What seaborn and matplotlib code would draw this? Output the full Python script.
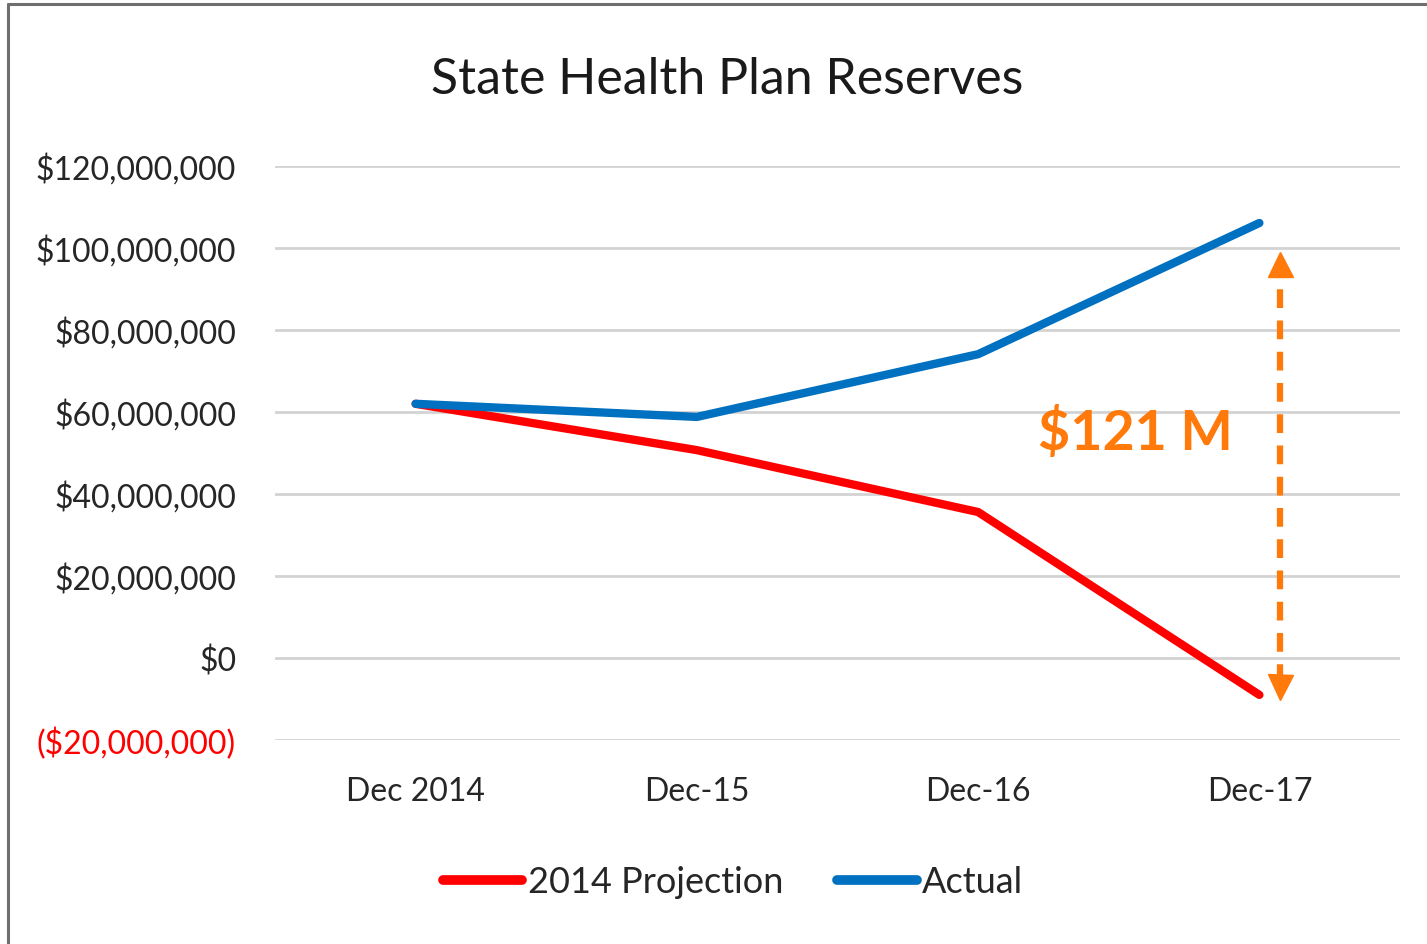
import numpy as np
import pandas as pd
import seaborn as sns
import matplotlib.pyplot as plt
from matplotlib.lines import Line2D
from matplotlib.ticker import FuncFormatter

sns.set_theme(style="white")
plt.rcParams['font.family'] = ['Lato', 'DejaVu Sans']

# data
periods = ['Dec 2014', 'Dec-15', 'Dec-16', 'Dec-17']
projection_2014 = [62.0e6, 50.7e6, 35.6e6, -9.0e6]
actual = [62.0e6, 58.8e6, 74.1e6, 106.1e6]
gap_label = '$121 M'
gap_top = 98.5e6
gap_bottom = -9.5e6

df = pd.DataFrame({
    'Period': periods * 2,
    'Reserves': projection_2014 + actual,
    'Series': ['2014 Projection'] * 4 + ['Actual'] * 4,
})

colors = {'2014 Projection': '#FF0000', 'Actual': '#0070C0'}
orange = '#FF7A0A'

fig = plt.figure(figsize=(14.27, 9.45), dpi=100)
ax = fig.add_axes([275 / 1427, 1 - 741 / 945, 1125 / 1427, (741 - 167) / 945])

sns.lineplot(ax=ax, data=df, x='Period', y='Reserves', hue='Series',
             palette=colors, linewidth=6.0, legend=False, sort=False,
             solid_capstyle='round')

ax.set_xlim(-0.5, 3.5)
ax.set_ylim(-20e6, 120e6)
ax.set_yticks(np.arange(-20e6, 120e6 + 1, 20e6))


def money(v, pos):
    if v < 0:
        return '(${:,.0f})'.format(-v)
    return '${:,.0f}'.format(v)


ax.yaxis.set_major_formatter(FuncFormatter(money))
ax.grid(axis='y', color='#D3D3D3', linewidth=2.0)
ax.grid(axis='x', visible=False)
for s in ax.spines.values():
    s.set_visible(False)
ax.set_xlabel('')
ax.set_ylabel('')
ax.tick_params(axis='y', labelsize=23, pad=28, length=0, labelcolor='#262626')
ax.tick_params(axis='x', labelsize=23, pad=26, length=0, labelcolor='#262626')
for lab in ax.get_yticklabels():
    if lab.get_text().startswith('('):
        lab.set_color('#FF0000')

# gap arrow
ax_x = 3.073
ax.vlines(ax_x, gap_bottom + 3.5e6, gap_top - 3.5e6, colors=orange,
          linestyles=(0, (3, 2)), linewidth=4.5)
ax.plot([ax_x], [gap_top - 2.5e6], marker='^', markersize=18, color=orange,
        linestyle='none', clip_on=False)
ax.plot([ax_x], [gap_bottom + 2.5e6], marker='v', markersize=18, color=orange,
        linestyle='none', clip_on=False)
ax.text(2.56, 55.3e6, gap_label, color=orange, fontsize=40, fontweight='bold',
        ha='center', va='center')

fig.text(727 / 1427, 1 - 80 / 945, 'State Health Plan Reserves', fontsize=36,
         ha='center', va='center', color='#1a1a1a')

handles = [Line2D([], [], color=colors[k], linewidth=7, solid_capstyle='round')
           for k in colors]
fig.legend(handles, list(colors), loc='center', ncol=2,
           bbox_to_anchor=(733 / 1427, 1 - 883 / 945), frameon=False,
           fontsize=26, handlelength=2.2, handletextpad=0.15,
           columnspacing=1.5)

# outer frame as in the screenshot
fig.add_artist(Line2D([8 / 1427, 8 / 1427], [0, 1 - 5 / 945], color='#6e6e6e',
                      linewidth=2.2, transform=fig.transFigure))
fig.add_artist(Line2D([8 / 1427, 1], [1 - 5 / 945, 1 - 5 / 945], color='#6e6e6e',
                      linewidth=2.2, transform=fig.transFigure))

fig.savefig('out.png', dpi=100)
